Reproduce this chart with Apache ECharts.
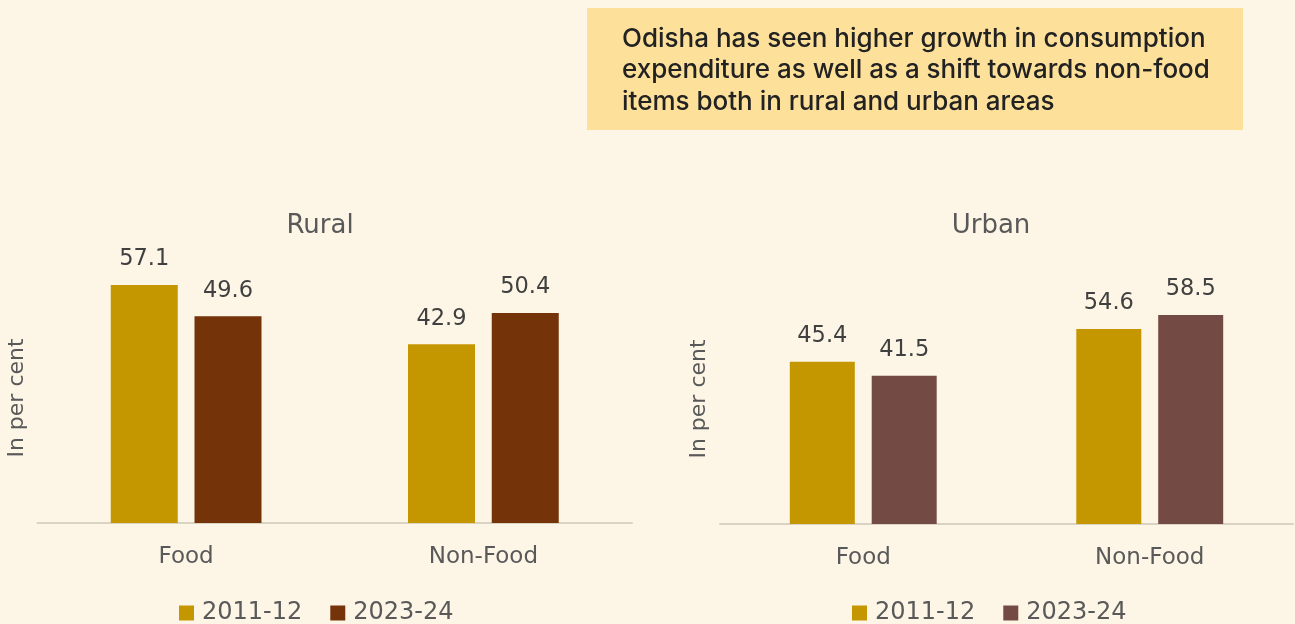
<!DOCTYPE html>
<html><head><meta charset="utf-8">
<script src="https://cdn.jsdelivr.net/npm/echarts@6/dist/echarts.min.js"></script>
<style>html,body{margin:0;padding:0;background:#fdf6e6;}#c{width:1295px;height:624px;}</style>
</head><body><div id="c"></div>
<script>
const categories = ['Food', 'Non-Food'];
const rural2011 = [57.1, 42.9];
const rural2023 = [49.6, 50.4];
const urban2011 = [45.4, 54.6];
const urban2023 = [41.5, 58.5];
const periods = ['2011-12', '2023-24'];
const note = 'Odisha has seen higher growth in consumption\nexpenditure as well as a shift towards non-food\nitems both in rural and urban areas';

const FONT = 'DejaVu Sans';
const TXT = '#595959';
const GOLD = '#c49600';
const BROWN = '#75330a';
const MAUVE = '#734a44';

const chart = echarts.init(document.getElementById('c'));
function lbl() {
  return { show: true, position: 'top', distance: 14, color: '#404040', fontSize: 22.5, fontFamily: FONT };
}
const legendText = { color: TXT, fontSize: 24, fontFamily: FONT, padding: [0, 0, 0, 3] };
chart.setOption({
  backgroundColor: '#fdf6e6',
  animation: false,
  title: [
    { text: 'Rural', left: 315, top: 208, textAlign: 'center', textStyle: { color: TXT, fontSize: 26, fontWeight: 'normal', fontFamily: FONT } },
    { text: 'Urban', left: 986, top: 208, textAlign: 'center', textStyle: { color: TXT, fontSize: 26, fontWeight: 'normal', fontFamily: FONT } }
  ],
  legend: [
    { data: ['R ' + periods[0], 'R ' + periods[1]], left: 179, top: 601, itemWidth: 15, itemHeight: 15, itemGap: 28,
      formatter: n => n.slice(2), textStyle: legendText, icon: 'rect', padding: 0 },
    { data: ['U ' + periods[0], 'U ' + periods[1]], left: 852, top: 601, itemWidth: 15, itemHeight: 15, itemGap: 28,
      formatter: n => n.slice(2), textStyle: legendText, icon: 'rect', padding: 0 }
  ],
  grid: [
    { left: 37.5, top: 273, width: 594.5, height: 250 },
    { left: 720, top: 274, width: 573, height: 250 }
  ],
  xAxis: [0, 1].map(i => ({
    type: 'category', gridIndex: i, data: categories,
    axisLine: { lineStyle: { color: '#d9d3c3', width: 2 } }, axisTick: { show: false },
    axisLabel: { color: TXT, fontSize: 23, fontFamily: FONT, margin: 23 }
  })),
  yAxis: [0, 1].map(i => ({
    type: 'value', gridIndex: i, min: 0, max: i === 0 ? 60 : 70,
    name: 'In per cent', nameLocation: 'middle', nameGap: 9.5,
    nameTextStyle: { color: TXT, fontSize: 22, fontFamily: FONT },
    axisLine: { show: false }, axisTick: { show: false }, axisLabel: { show: false }, splitLine: { show: false }
  })),
  series: [
    { name: 'R ' + periods[0], type: 'bar', xAxisIndex: 0, yAxisIndex: 0, data: rural2011, barWidth: 67, barGap: '25%', itemStyle: { color: GOLD }, label: lbl() },
    { name: 'R ' + periods[1], type: 'bar', xAxisIndex: 0, yAxisIndex: 0, data: rural2023, barWidth: 67, barGap: '25%', itemStyle: { color: BROWN }, label: lbl() },
    { name: 'U ' + periods[0], type: 'bar', xAxisIndex: 1, yAxisIndex: 1, data: urban2011, barWidth: 65, barGap: '26%', itemStyle: { color: GOLD }, label: lbl() },
    { name: 'U ' + periods[1], type: 'bar', xAxisIndex: 1, yAxisIndex: 1, data: urban2023, barWidth: 65, barGap: '26%', itemStyle: { color: MAUVE }, label: lbl() }
  ],
  graphic: [
    { type: 'rect', left: 587, top: 8, shape: { width: 656, height: 122 }, style: { fill: '#fde09a' } },
    { type: 'text', left: 622, top: 23, style: { text: note, fill: '#222', fontSize: 26, fontFamily: 'Inter', fontWeight: 500, lineHeight: 31.5 } }
  ]
});
</script></body></html>
